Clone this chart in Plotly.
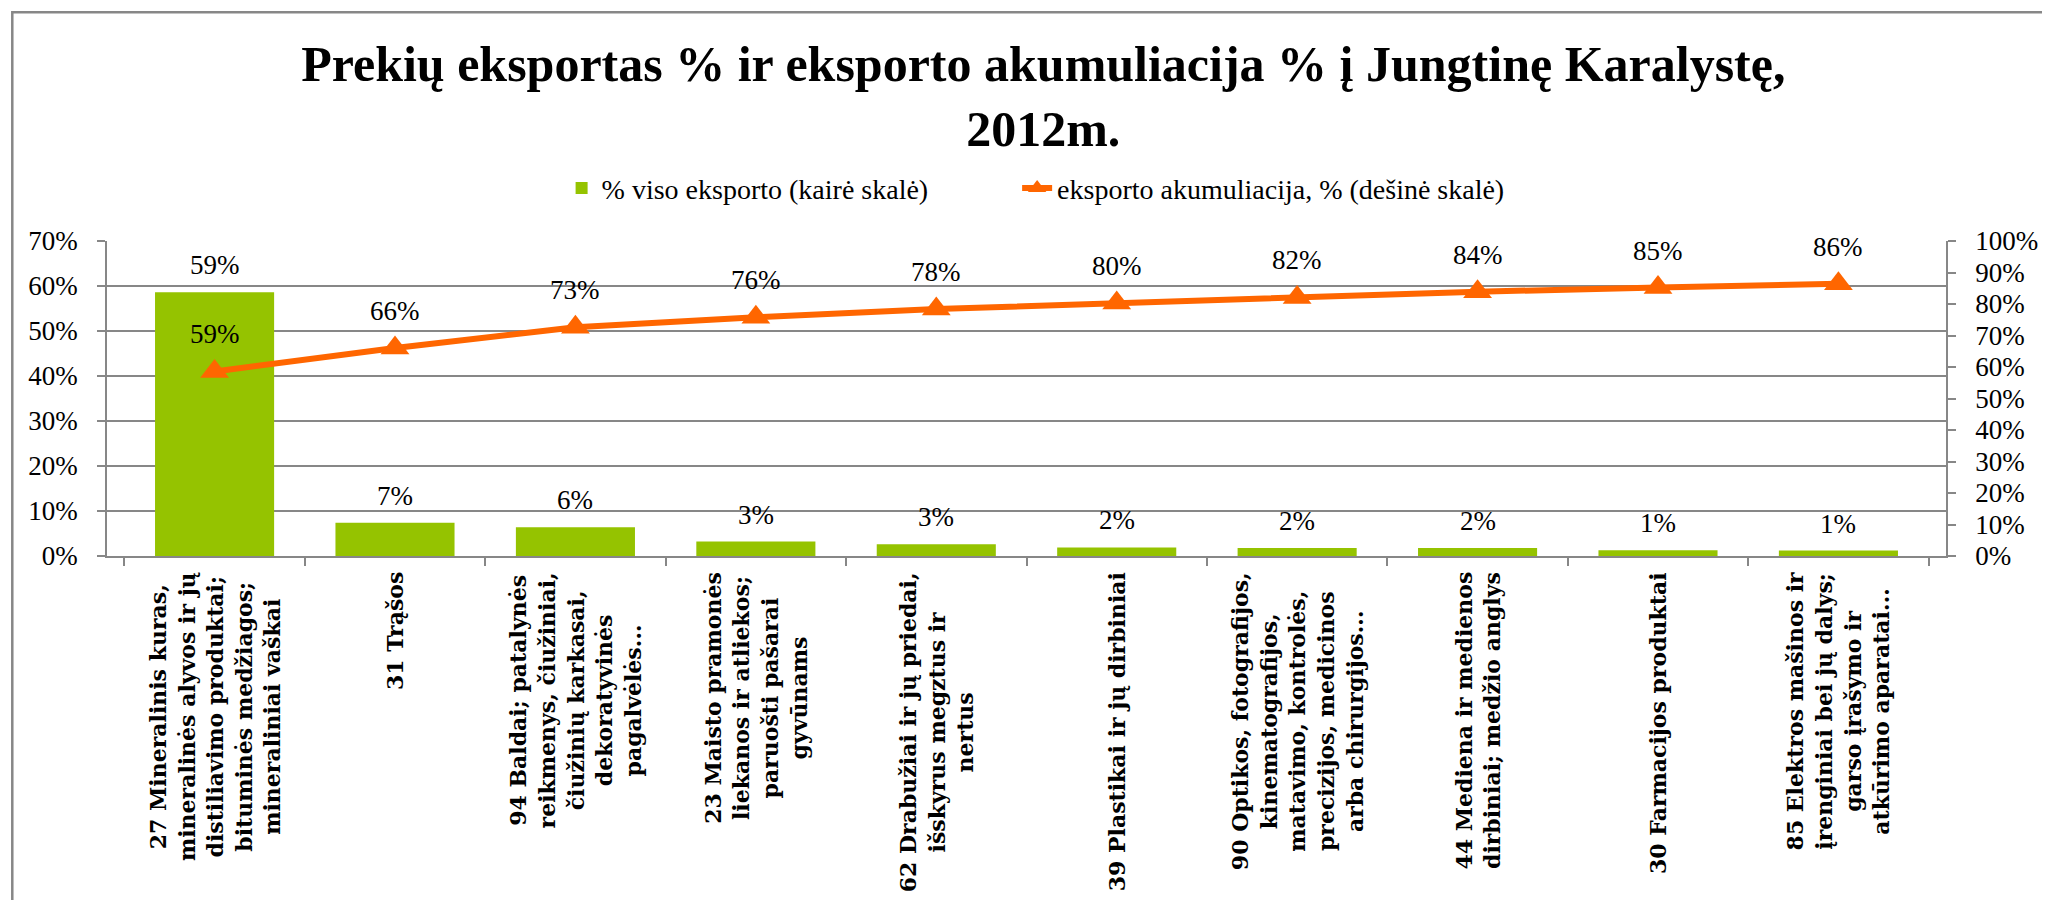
import plotly.graph_objects as go

categories = [
    "27 Mineralinis kuras,<br>mineralinės alyvos ir jų<br>distiliavimo produktai;<br>bituminės medžiagos;<br>mineraliniai vaškai",
    "31 Trąšos",
    "94 Baldai; patalynės<br>reikmenys, čiužiniai,<br>čiužinių karkasai,<br>dekoratyvinės<br>pagalvėlės...",
    "23 Maisto pramonės<br>liekanos ir atliekos;<br>paruošti pašarai<br>gyvūnams",
    "62 Drabužiai ir jų priedai,<br>išskyrus megztus ir<br>nertus",
    "39 Plastikai ir jų dirbiniai",
    "90 Optikos, fotografijos,<br>kinematografijos,<br>matavimo, kontrolės,<br>precizijos, medicinos<br>arba chirurgijos...",
    "44 Mediena ir medienos<br>dirbiniai; medžio anglys",
    "30 Farmacijos produktai",
    "85 Elektros mašinos ir<br>įrenginiai bei jų dalys;<br>garso įrašymo ir<br>atkūrimo aparatai...",
]
export_share = [58.6, 7.4, 6.4, 3.2, 2.6, 1.9, 1.8, 1.8, 1.3, 1.2]
export_cumulative = [58.6, 66.0, 72.6, 75.8, 78.4, 80.3, 82.1, 83.9, 85.2, 86.4]

title_text = "Prekių eksportas % ir eksporto akumuliacija % į Jungtinę Karalystę,<br>2012m."
bar_name = "% viso eksporto (kairė skalė)"
line_name = "eksporto akumuliacija, % (dešinė skalė)"

GREEN = "#95C300"
ORANGE = "#FF6600"
GRID = "#878787"
SERIF = "Liberation Serif"
LABEL_FONT = "DejaVu Serif"

fig = go.Figure()
fig.add_bar(x=categories, y=export_share, name=bar_name, marker_color=GREEN,
            marker_line_width=0, yaxis="y", legend="legend")
fig.add_scatter(x=categories, y=export_cumulative, name=line_name, mode="lines+markers",
                line=dict(color=ORANGE, width=6),
                marker=dict(symbol="triangle-up", size=25, color=ORANGE),
                yaxis="y2", legend="legend2")

annotations = []
for c, v in zip(categories, export_share):
    annotations.append(dict(x=c, y=v, xref="x", yref="y", text=f"{v:.0f}%",
                            showarrow=False, yanchor="middle", yshift=27,
                            font=dict(family=SERIF, size=27, color="black")))
for c, v in zip(categories, export_cumulative):
    annotations.append(dict(x=c, y=v, xref="x", yref="y2", text=f"{v:.0f}%",
                            showarrow=False, yanchor="middle", yshift=37,
                            font=dict(family=SERIF, size=27, color="black")))
for c in categories:
    annotations.append(dict(x=c, y=0, xref="x", yref="paper", text=f"<b>{c}</b>",
                            showarrow=False, textangle=-90, yanchor="top",
                            xanchor="center", align="center", yshift=-14,
                            font=dict(family=LABEL_FONT, size=22, color="black")))

legend_font = dict(family=SERIF, size=28, color="black")

fig.update_layout(
    width=2042, height=892,
    paper_bgcolor="white", plot_bgcolor="white",
    margin=dict(l=99, r=98, t=233, b=344),
    title=dict(text=f"<b>{title_text}</b>", x=0.507, xref="container", xanchor="center",
               y=0.918, yref="container", yanchor="top",
               font=dict(family=SERIF, size=50, color="black")),
    legend=dict(orientation="h", x=0.2472, xanchor="left", y=1.167, yanchor="middle",
                font=legend_font, bgcolor="rgba(0,0,0,0)"),
    legend2=dict(orientation="h", x=0.4949, xanchor="left", y=1.167, yanchor="middle",
                 font=legend_font, bgcolor="rgba(0,0,0,0)"),
    bargap=0.34,
    showlegend=True,
    xaxis=dict(type="category", showticklabels=False, ticks="outside", tickson="boundaries",
               ticklen=8, tickcolor=GRID, tickwidth=1.5, showline=True, linecolor=GRID,
               linewidth=1.5, showgrid=False, zeroline=False),
    yaxis=dict(range=[0, 70], dtick=10, ticksuffix="%", showgrid=True, gridcolor=GRID,
               gridwidth=1.5, showline=True, linecolor=GRID, linewidth=1.5, ticks="outside",
               ticklen=8, tickcolor=GRID, tickwidth=1.5, zeroline=False, ticklabelstandoff=14,
               tickfont=dict(family=SERIF, size=27, color="black")),
    yaxis2=dict(range=[0, 100], dtick=10, ticksuffix="%", overlaying="y", side="right",
                showgrid=False, showline=True, linecolor=GRID, linewidth=1.5, ticks="outside",
                ticklen=8, tickcolor=GRID, tickwidth=1.5, zeroline=False, ticklabelstandoff=14,
                tickfont=dict(family=SERIF, size=27, color="black")),
    annotations=annotations,
    shapes=[dict(type="rect", xref="paper", yref="paper", x0=-0.0515, x1=1.06,
                 y0=-1.2, y1=1.726, line=dict(color=GRID, width=2.5), fillcolor="rgba(0,0,0,0)",
                 layer="below")],
)

fig.write_html("out.html")
